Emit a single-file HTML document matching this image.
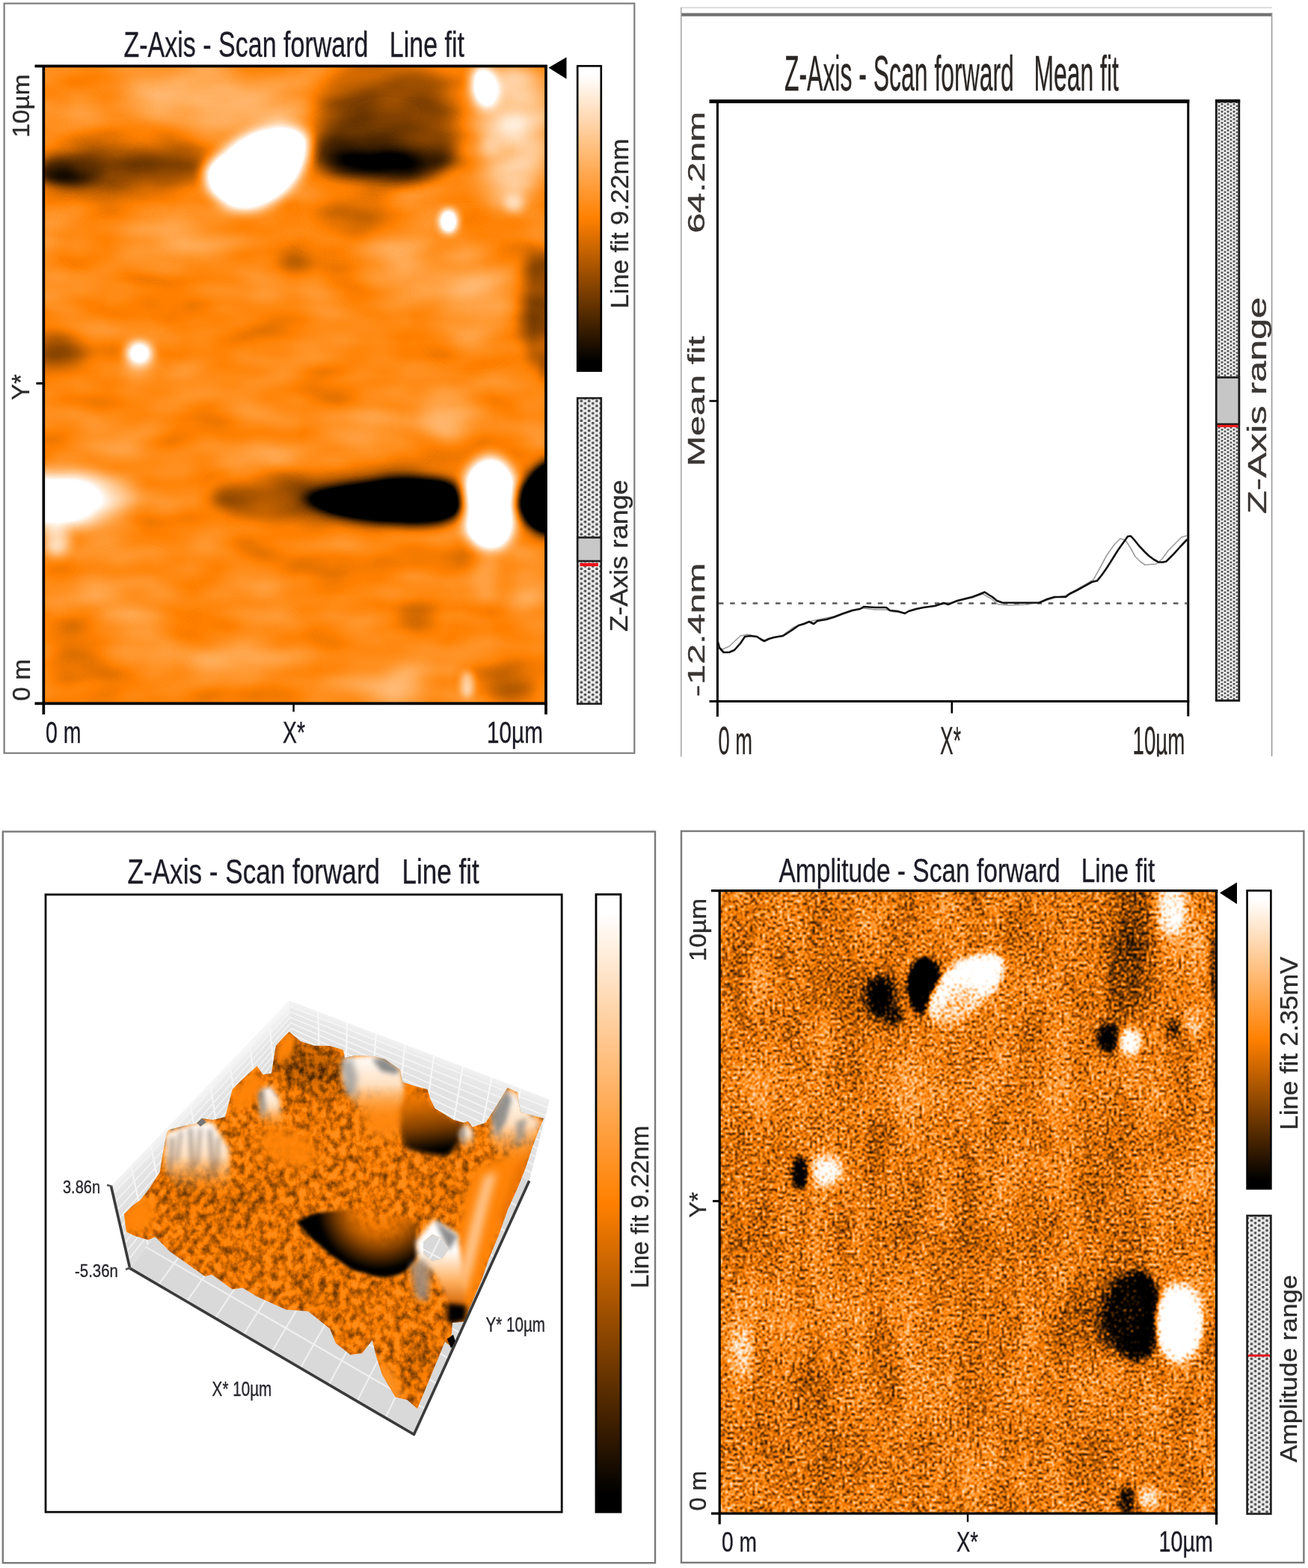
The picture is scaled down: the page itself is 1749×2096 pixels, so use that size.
<!DOCTYPE html>
<html lang="en"><head><meta charset="utf-8"><title>AFM scan panels</title>
<style>
html,body{margin:0;padding:0;background:#fff;}
body{width:1749px;height:2096px;overflow:hidden;font-family:"Liberation Sans",sans-serif;}
svg{display:block;font-family:"Liberation Sans",sans-serif;}
text{white-space:pre;}
</style></head><body>
<svg width="1749" height="2096" viewBox="0 0 1749 2096" role="img" aria-label="AFM scan panels">
<defs>
<filter id="soft" x="-5%" y="-5%" width="110%" height="110%"><feGaussianBlur stdDeviation="0.6"/></filter>
<filter id="cm1" filterUnits="userSpaceOnUse" x="59" y="89" width="671" height="851" color-interpolation-filters="sRGB">
<feTurbulence type="fractalNoise" baseFrequency="0.010 0.022" numOctaves="2" seed="7" result="n"/>
<feColorMatrix in="n" type="matrix" values="1 0 0 0 0  1 0 0 0 0  1 0 0 0 0  0 0 0 0 1" result="ng"/>
<feComposite in="SourceGraphic" in2="ng" operator="arithmetic" k1="0" k2="1.8" k3="0.3" k4="-0.55" result="h"/>
<feComponentTransfer><feFuncR type="table" tableValues="0 1 1"/><feFuncG type="table" tableValues="0 0.5 1"/><feFuncB type="table" tableValues="0 0 1"/></feComponentTransfer></filter>
<filter id="cm4" filterUnits="userSpaceOnUse" x="962" y="1191" width="665" height="832" color-interpolation-filters="sRGB">
<feTurbulence type="fractalNoise" baseFrequency="0.025 0.010" numOctaves="3" seed="4" result="m"/>
<feColorMatrix in="m" type="matrix" values="1 0 0 0 0  1 0 0 0 0  1 0 0 0 0  0 0 0 0 1" result="mg"/>
<feComposite in="SourceGraphic" in2="mg" operator="arithmetic" k1="0" k2="1" k3="0.1333" k4="-0.0667" result="s2"/>
<feTurbulence type="fractalNoise" baseFrequency="0.30 0.28" numOctaves="2" seed="11" result="n"/>
<feColorMatrix in="n" type="matrix" values="1 0 0 0 0  1 0 0 0 0  1 0 0 0 0  0 0 0 0 1" result="ng0"/>
<feComponentTransfer in="ng0" result="ng"><feFuncR type="table" tableValues="0 0.03 0.18 0.41 0.5 0.58 0.74 0.95 1"/><feFuncG type="table" tableValues="0 0.03 0.18 0.41 0.5 0.58 0.74 0.95 1"/><feFuncB type="table" tableValues="0 0.03 0.18 0.41 0.5 0.58 0.74 0.95 1"/></feComponentTransfer>
<feComposite in="s2" in2="ng" operator="arithmetic" k1="0" k2="3.0" k3="2.4" k4="-2.2" result="h"/>
<feGaussianBlur stdDeviation="0.9"/><feComponentTransfer><feFuncR type="table" tableValues="0 1 1"/><feFuncG type="table" tableValues="0 0.5 1"/><feFuncB type="table" tableValues="0 0 1"/></feComponentTransfer></filter>
<linearGradient id="cbar" x1="0" y1="0" x2="0" y2="1"><stop offset="0" stop-color="#fff"/><stop offset="0.03" stop-color="#fff"/><stop offset="0.5" stop-color="#ff8000"/><stop offset="0.97" stop-color="#000"/><stop offset="1" stop-color="#000"/></linearGradient>
<pattern id="dots" width="10.3" height="6.6" patternUnits="userSpaceOnUse" patternTransform="translate(771,531)"><rect width="10.3" height="6.6" fill="#ececec"/><circle cx="1.2" cy="1.6" r="1.85" fill="#505050"/><circle cx="11.5" cy="1.6" r="1.85" fill="#505050"/><circle cx="6.35" cy="4.9" r="1.85" fill="#505050"/></pattern>
<pattern id="dots2" width="8" height="5" patternUnits="userSpaceOnUse" patternTransform="translate(1625,133)"><rect width="8" height="5" fill="#ececec"/><circle cx="1" cy="1.2" r="1.5" fill="#555"/><circle cx="9" cy="1.2" r="1.5" fill="#555"/><circle cx="5" cy="3.7" r="1.5" fill="#555"/></pattern>
</defs>
<rect width="1749" height="2096" fill="#fff"/>
<rect x="5.6" y="4.6" width="842.70" height="1002.10" fill="none" stroke="#7d7d7d" stroke-width="2.2" />
<g filter="url(#cm1)">
<rect x="50" y="80" width="690.00" height="870.00" fill="rgb(133,133,133)" stroke="none" stroke-width="0" />
<ellipse cx="280" cy="135" rx="150" ry="40" fill="rgb(156,156,156)" filter="url(#b22)"  />
<ellipse cx="120" cy="130" rx="50" ry="35" fill="rgb(139,139,139)" filter="url(#b16)"  />
<ellipse cx="240" cy="312" rx="130" ry="25" fill="rgb(143,143,143)" filter="url(#b18)"  />
<ellipse cx="526" cy="345" rx="50" ry="40" fill="rgb(142,142,142)" filter="url(#b18)"  />
<ellipse cx="631" cy="384" rx="40" ry="70" fill="rgb(150,150,150)" filter="url(#b20)"  />
<ellipse cx="495" cy="573" rx="60" ry="30" fill="rgb(143,143,143)" filter="url(#b16)"  />
<ellipse cx="600" cy="552" rx="35" ry="35" fill="rgb(150,150,150)" filter="url(#b14)"  />
<ellipse cx="176" cy="825" rx="50" ry="60" fill="rgb(143,143,143)" filter="url(#b18)"  />
<ellipse cx="505" cy="909" rx="60" ry="25" fill="rgb(150,150,150)" filter="url(#b14)"  />
<ellipse cx="330" cy="880" rx="60" ry="40" fill="rgb(142,142,142)" filter="url(#b18)"  />
<ellipse cx="705" cy="783" rx="25" ry="50" fill="rgb(142,142,142)" filter="url(#b14)"  />
<ellipse cx="650" cy="770" rx="18" ry="35" fill="rgb(153,153,153)" filter="url(#b10)"  />
<ellipse cx="625" cy="915" rx="9" ry="17" fill="rgb(177,177,177)" filter="url(#b5)"  />
<ellipse cx="558" cy="825" rx="28" ry="24" fill="rgb(113,113,113)" filter="url(#b12)"  />
<ellipse cx="684" cy="919" rx="32" ry="24" fill="rgb(109,109,109)" filter="url(#b12)"  />
<ellipse cx="92" cy="885" rx="35" ry="45" fill="rgb(120,120,120)" filter="url(#b16)"  />
<ellipse cx="717" cy="410" rx="20" ry="80" fill="rgb(96,96,96)" filter="url(#b10)"  />
<ellipse cx="728" cy="420" rx="8" ry="90" fill="rgb(99,99,99)" filter="url(#b6)"  />
<ellipse cx="77" cy="470" rx="38" ry="26" fill="rgb(105,105,105)" filter="url(#b12)"  />
<ellipse cx="277" cy="468" rx="45" ry="12" fill="rgb(116,116,116)" filter="url(#b10)"  />
<ellipse cx="186" cy="405" rx="30" ry="14" fill="rgb(122,122,122)" filter="url(#b10)"  />
<ellipse cx="394" cy="353" rx="20" ry="20" fill="rgb(116,116,116)" filter="url(#b10)"  />
<ellipse cx="400" cy="640" rx="60" ry="12" fill="rgb(120,120,120)" filter="url(#b10)"  />
<ellipse cx="460" cy="780" rx="60" ry="14" fill="rgb(122,122,122)" filter="url(#b12)"  />
<ellipse cx="165" cy="222" rx="125" ry="38" fill="rgb(108,108,108)" filter="url(#b14)"  />
<ellipse cx="160" cy="226" rx="110" ry="20" fill="rgb(91,91,91)" filter="url(#b9)"  />
<ellipse cx="95" cy="228" rx="45" ry="17" fill="rgb(76,76,76)" filter="url(#b8)"  />
<ellipse cx="78" cy="228" rx="22" ry="10" fill="rgb(65,65,65)" filter="url(#b7)"  />
<ellipse cx="515" cy="150" rx="95" ry="62" fill="rgb(94,94,94)" filter="url(#b18)"  />
<ellipse cx="515" cy="200" rx="95" ry="44" fill="rgb(84,84,84)" filter="url(#b12)"  />
<ellipse cx="470" cy="280" rx="60" ry="28" fill="rgb(118,118,118)" filter="url(#b18)"  />
<ellipse cx="515" cy="213" rx="85" ry="24" fill="rgb(74,74,74)" filter="url(#b10)"  />
<ellipse cx="505" cy="217" rx="60" ry="11" fill="rgb(45,45,45)" filter="url(#b9)"  />
<ellipse cx="685" cy="180" rx="46" ry="95" fill="rgb(173,173,173)" filter="url(#b16)"  />
<ellipse cx="684" cy="170" rx="18" ry="18" fill="rgb(184,184,184)" filter="url(#b8)"  />
<ellipse cx="660" cy="194" rx="14" ry="14" fill="rgb(181,181,181)" filter="url(#b7)"  />
<ellipse cx="648" cy="116" rx="16" ry="27" fill="rgb(241,241,241)" filter="url(#b8)" transform="rotate(-12 648 116)" />
<ellipse cx="600" cy="296" rx="11" ry="15" fill="rgb(248,248,248)" filter="url(#b6)"  />
<ellipse cx="688" cy="269" rx="12" ry="13" fill="rgb(177,177,177)" filter="url(#b6)"  />
<polygon points="275.0,226.0 290.0,210.0 317.0,190.0 345.0,176.0 376.0,170.0 403.0,176.0 413.0,190.0 409.0,214.0 393.0,242.0 368.0,266.0 338.0,279.0 308.0,276.0 287.0,261.0 277.0,243.0" fill="rgb(248,248,248)" filter="url(#b9)"  />
<ellipse cx="186" cy="478" rx="22" ry="24" fill="rgb(159,159,159)" filter="url(#b9)"  />
<ellipse cx="186" cy="472" rx="15" ry="13" fill="rgb(248,248,248)" filter="url(#b7)"  />
<ellipse cx="460" cy="667" rx="170" ry="30" fill="rgb(99,99,99)" filter="url(#b12)"  />
<ellipse cx="340" cy="664" rx="55" ry="18" fill="rgb(99,99,99)" filter="url(#b10)"  />
<polygon points="398.0,666.0 430.0,657.0 470.0,648.0 515.0,641.0 555.0,639.0 588.0,641.0 608.0,649.0 616.0,660.0 617.0,673.0 612.0,687.0 592.0,697.0 552.0,700.0 510.0,697.0 468.0,690.0 430.0,680.0" fill="rgb(7,7,7)" filter="url(#b9)"  />
<rect x="624" y="611" width="62" height="122" rx="30" ry="36" fill="rgb(252,252,252)" filter="url(#b9)"/>
<polygon points="734.0,615.0 717.0,627.0 702.0,644.0 694.0,664.0 695.0,683.0 704.0,699.0 718.0,709.0 734.0,713.0 760.0,713.0 760.0,615.0" fill="rgb(3,3,3)" filter="url(#b8)"  />
<ellipse cx="95" cy="668" rx="85" ry="38" fill="rgb(177,177,177)" filter="url(#b14)"  />
<ellipse cx="75" cy="720" rx="17" ry="24" fill="rgb(184,184,184)" filter="url(#b8)"  />
<polygon points="30.0,636.0 90.0,642.0 125.0,656.0 150.0,669.0 125.0,683.0 90.0,692.0 30.0,697.0" fill="rgb(241,241,241)" filter="url(#b13)"  />
</g>
<line x1="46.5" y1="88.3" x2="731.9" y2="88.3" stroke="#000" stroke-width="3.7" />
<line x1="58.3" y1="87" x2="58.3" y2="955" stroke="#000" stroke-width="3.7" />
<line x1="730" y1="87" x2="730" y2="955" stroke="#000" stroke-width="3.7" />
<line x1="46.5" y1="940.3" x2="731.9" y2="940.3" stroke="#000" stroke-width="3.7" />
<line x1="48.5" y1="512.5" x2="58" y2="512.5" stroke="#000" stroke-width="3" />
<line x1="392.6" y1="940" x2="392.6" y2="951.5" stroke="#000" stroke-width="2.4" />
<polygon points="733.5,90.5 757.5,76.5 757.5,105.5" fill="#000"/>
<rect x="772.2" y="88.2" width="31.60" height="407.60" fill="url(#cbar)" stroke="#000" stroke-width="2.6" />
<rect x="772.2" y="532.2" width="31.60" height="408.60" fill="url(#dots)" stroke="#1e1e1e" stroke-width="2.6" />
<rect x="772.2" y="718.5" width="31.60" height="31.50" fill="#c8c8c8" stroke="#1e1e1e" stroke-width="2.6" />
<line x1="775.5" y1="754.8" x2="800" y2="754.8" stroke="#f01018" stroke-width="4.2" />
<text transform="translate(165.5,76.3) scale(0.7091,1)" font-size="47.97" fill="#1c1c26" stroke="#1c1c26" stroke-width="0.35" >Z-Axis - Scan forward   Line fit</text>
<text transform="translate(61.0,992.5) scale(0.7129,1)" font-size="39.97" fill="#1c1c26" stroke="#1c1c26" stroke-width="0.35" >0 m</text>
<text transform="translate(378.0,992.5) scale(0.7106,1)" font-size="39.97" fill="#1c1c26" stroke="#1c1c26" stroke-width="0.35" >X*</text>
<text transform="translate(651.0,992.5) scale(0.7441,1)" font-size="39.97" fill="#1c1c26" stroke="#1c1c26" stroke-width="0.35" >10µm</text>
<text transform="translate(39.5,937.0) rotate(-90) scale(1.0272,1)" font-size="32.70" fill="#2a2a2a" stroke="#2a2a2a" stroke-width="0.35" >0 m</text>
<text transform="translate(39.3,534.9) rotate(-90) scale(1.0016,1)" font-size="32.70" fill="#2a2a2a" stroke="#2a2a2a" stroke-width="0.35" >Y*</text>
<text transform="translate(39.3,183.8) rotate(-90) scale(1.0492,1)" font-size="31.98" fill="#2a2a2a" stroke="#2a2a2a" stroke-width="0.35" >10µm</text>
<text transform="translate(839.8,412.5) rotate(-90) scale(1.0447,1)" font-size="33.14" fill="#2a2a2a" stroke="#2a2a2a" stroke-width="0.35" >Line fit 9.22nm</text>
<text transform="translate(839.3,844.6) rotate(-90) scale(1.1070,1)" font-size="32.41" fill="#2a2a2a" stroke="#2a2a2a" stroke-width="0.35" >Z-Axis range</text>
<line x1="910" y1="10.2" x2="1701" y2="10.2" stroke="#dcdcdc" stroke-width="2" />
<line x1="910" y1="19.6" x2="1701" y2="19.6" stroke="#707070" stroke-width="4.4" />
<line x1="910.8" y1="10" x2="910.8" y2="1012" stroke="#a8a8a8" stroke-width="1.6" />
<line x1="1700.6" y1="17" x2="1700.6" y2="1011" stroke="#9a9a9a" stroke-width="1.6" />
<line x1="948.5" y1="135.5" x2="1590.2" y2="135.5" stroke="#000" stroke-width="5" />
<line x1="959.4" y1="133" x2="959.4" y2="958" stroke="#000" stroke-width="3" />
<line x1="1588.8" y1="133" x2="1588.8" y2="957.5" stroke="#000" stroke-width="3" />
<line x1="948.5" y1="937.4" x2="1590.2" y2="937.4" stroke="#000" stroke-width="3" />
<line x1="948.5" y1="536" x2="959" y2="536" stroke="#000" stroke-width="2.6" />
<line x1="1272.8" y1="937" x2="1272.8" y2="953.5" stroke="#000" stroke-width="2.6" />
<line x1="961" y1="806.5" x2="1587" y2="806.5" stroke="#5a5a5a" stroke-width="2.6" stroke-dasharray="6.5 8.7"/>
<polyline fill="none" stroke="#9c9c9c" stroke-width="1.6" stroke-linejoin="round" points="960,864 966,868 975,864 990,850 1000,848 1012,851 1022,856 1035,852 1047,849 1062,838 1075,833 1090,829 1115,824 1140,815 1155,813 1170,815 1185,815 1195,818 1210,819 1235,812 1265,807 1300,799 1314,794 1325,800 1335,808 1350,809 1375,808 1395,804 1410,799 1425,796 1440,788 1455,779 1462,775 1472,757 1480,742 1490,728 1498,720 1505,722 1512,733 1518,744 1525,751 1531,755 1546,754 1554,747 1562,736 1572,726 1580,718 1587,716"/>
<polyline fill="none" stroke="#111" stroke-width="2.6" stroke-linejoin="round" points="960,858 962,866 967.5,872 975,872 982,869 990,860 996,851 1003,850 1012,851 1018,855 1022,857 1028,854 1035,852 1047,850 1058,843 1068,836 1075,834 1082,831 1088,834 1093,830 1105,828 1115,825 1128,820 1140,816 1150,814 1155,811 1170,812 1185,812 1190,816 1200,817 1210,820 1215,817 1225,814 1235,812 1250,810 1262,806 1268,808 1280,803 1300,798 1308,795 1316.7,791.5 1322,795 1327,798 1333,803 1340,805.5 1360,805.8 1390,805.5 1400,801 1410,798 1425,798 1430,794 1440,789 1454,781.4 1460,778 1467,776.3 1473,769 1479.7,759.6 1487,748 1495,735.2 1503,724 1508,717 1512,716.5 1517,722 1523.4,730 1530,737 1536.2,743 1543,748 1549,751.4 1555,751.5 1559.3,750.6 1564,746 1569.6,740.3 1578,731 1587.5,721"/>
<rect x="1626.3" y="135" width="30.50" height="801.50" fill="url(#dots2)" stroke="#1a1a1a" stroke-width="2.8" />
<line x1="1625" y1="135" x2="1658.2" y2="135" stroke="#111" stroke-width="4.5" />
<rect x="1626.3" y="504.5" width="30.50" height="62.50" fill="#c6c6c6" stroke="#1a1a1a" stroke-width="2.6" />
<line x1="1628" y1="569.5" x2="1655.5" y2="569.5" stroke="#ee1c1c" stroke-width="3.2" />
<text transform="translate(1049.0,120.5) scale(0.4723,1)" font-size="67.59" fill="#2a2624" stroke="#2a2624" stroke-width="0.35" >Z-Axis - Scan forward   Mean fit</text>
<text transform="translate(960.5,1008.0) scale(0.5216,1)" font-size="52.33" fill="#2a2624" stroke="#2a2624" stroke-width="0.35" >0 m</text>
<text transform="translate(1257.0,1008.0) scale(0.5066,1)" font-size="52.33" fill="#2a2624" stroke="#2a2624" stroke-width="0.35" >X*</text>
<text transform="translate(1514.5,1008.0) scale(0.5305,1)" font-size="52.33" fill="#2a2624" stroke="#2a2624" stroke-width="0.35" >10µm</text>
<text transform="translate(942.0,931.5) rotate(-90) scale(1.5614,1)" font-size="31.25" fill="#3a3634" stroke="#3a3634" stroke-width="0.35" >-12.4nm</text>
<text transform="translate(942.0,623.5) rotate(-90) scale(1.5698,1)" font-size="31.25" fill="#3a3634" stroke="#3a3634" stroke-width="0.35" >Mean fit</text>
<text transform="translate(942.0,311.8) rotate(-90) scale(1.5619,1)" font-size="31.25" fill="#3a3634" stroke="#3a3634" stroke-width="0.35" >64.2nm</text>
<text transform="translate(1692.5,687.0) rotate(-90) scale(1.4666,1)" font-size="34.88" fill="#3a3634" stroke="#3a3634" stroke-width="0.35" >Z-Axis range</text>
<rect x="900" y="1011.5" width="849.00" height="48.50" fill="#fff" stroke="none" stroke-width="0" />
<rect x="3.8" y="1111.6" width="872.20" height="977.60" fill="none" stroke="#7a7a7a" stroke-width="2.4" />
<rect x="61" y="1195.8" width="690.20" height="825.40" fill="none" stroke="#0a0a0a" stroke-width="2.8" />
<rect x="797" y="1195.6" width="33.00" height="825.60" fill="url(#cbar)" stroke="#000" stroke-width="2.8" />
<text transform="translate(170.5,1180.6) scale(0.7553,1)" font-size="46.51" fill="#1c1c26" stroke="#1c1c26" stroke-width="0.35" >Z-Axis - Scan forward   Line fit</text>
<text transform="translate(866.8,1722.0) rotate(-90) scale(0.9782,1)" font-size="33.87" fill="#2a2a2a" stroke="#2a2a2a" stroke-width="0.35" >Line fit 9.22nm</text>
<defs>
<linearGradient id="wl" gradientUnits="userSpaceOnUse" x1="270" y1="1460" x2="300" y2="1490"><stop offset="0" stop-color="#f6f6f6"/><stop offset="0.35" stop-color="#e6e6e6"/><stop offset="1" stop-color="#dedede"/></linearGradient>
<linearGradient id="wr" gradientUnits="userSpaceOnUse" x1="570" y1="1400" x2="555" y2="1440"><stop offset="0" stop-color="#f8f8f8"/><stop offset="0.4" stop-color="#e9e9e9"/><stop offset="1" stop-color="#e2e2e2"/></linearGradient>
<clipPath id="sc"><path clip-rule="evenodd" d="M166.0,1623.0 177.0,1612.0 188.0,1604.0 200.0,1588.0 213.6,1567.0 218.0,1540.0 223.0,1514.0 227.0,1510.0 246.6,1504.7 262.0,1502.0 270.0,1495.0 285.0,1497.0 301.0,1493.0 306.0,1475.0 310.8,1456.0 325.0,1442.0 343.8,1425.0 351.6,1436.6 363.0,1434.7 366.0,1415.0 369.0,1397.8 378.0,1388.0 386.6,1379.3 402.0,1392.0 420.0,1397.8 441.0,1398.0 459.0,1403.6 461.0,1414.0 475.0,1411.0 500.0,1412.0 515.0,1416.0 535.0,1430.0 538.6,1446.4 555.0,1452.0 571.6,1456.0 575.0,1468.0 581.4,1481.4 595.0,1490.0 606.6,1497.0 620.0,1500.8 626.0,1499.0 632.0,1506.6 649.4,1500.8 664.0,1478.0 678.6,1454.0 692.0,1460.0 694.0,1475.0 696.0,1487.0 712.0,1491.0 727.0,1495.0 720.0,1512.0 711.6,1534.0 702.0,1563.0 692.0,1588.0 678.6,1617.4 667.0,1650.5 653.3,1683.5 643.6,1712.0 626.0,1752.8 622.2,1766.4 605.0,1768.0 602.7,1799.4 595.0,1793.6 581.4,1826.6 567.7,1859.7 558.0,1883.0 544.4,1871.3 528.9,1867.5 511.4,1838.3 503.6,1815.0 497.8,1791.6 484.0,1809.0 468.6,1811.0 449.0,1795.5 441.0,1776.0 411.9,1752.8 382.7,1750.8 343.8,1733.3 324.4,1721.6 310.8,1723.6 283.6,1704.0 273.9,1706.0 227.2,1673.0 207.8,1653.6 198.0,1657.5 180.0,1652.0 168.9,1646.6Z M566.0,1660.0 578.0,1650.0 592.0,1656.0 600.0,1668.0 592.0,1682.0 578.0,1686.0 566.0,1676.0Z"/></clipPath>
<filter id="cm3" filterUnits="userSpaceOnUse" x="140" y="1330" width="610" height="600" color-interpolation-filters="sRGB">
<feTurbulence type="fractalNoise" baseFrequency="0.11 0.09" numOctaves="3" seed="5" result="n"/>
<feColorMatrix in="n" type="matrix" values="1 0 0 0 0  1 0 0 0 0  1 0 0 0 0  0 0 0 0 1" result="ng"/>
<feComponentTransfer in="ng" result="np"><feFuncR type="table" tableValues="1 1 0.62 0.25"/><feFuncG type="table" tableValues="1 1 0.62 0.25"/><feFuncB type="table" tableValues="1 1 0.62 0.25"/></feComponentTransfer>
<feComposite in="SourceGraphic" in2="np" operator="arithmetic" k1="0" k2="3" k3="0.55" k4="-1.55" result="h"/>
<feComponentTransfer><feFuncR type="table" tableValues="0 1 1"/><feFuncG type="table" tableValues="0 0.5 1"/><feFuncB type="table" tableValues="0 0 1"/></feComponentTransfer>
</filter>
<radialGradient id="v1" gradientUnits="userSpaceOnUse" cx="508" cy="1612" r="100"><stop offset="0" stop-color="#ff8000" stop-opacity="0"/><stop offset="0.3" stop-color="#e87400" stop-opacity="0.7"/><stop offset="0.6" stop-color="#7a3c00"/><stop offset="0.85" stop-color="#000"/><stop offset="1" stop-color="#000"/></radialGradient>
<linearGradient id="v2" gradientUnits="userSpaceOnUse" x1="572" y1="1452" x2="584" y2="1546"><stop offset="0" stop-color="#ff8000" stop-opacity="0.6"/><stop offset="0.25" stop-color="#d86c00" stop-opacity="0.95"/><stop offset="0.6" stop-color="#7a3c00"/><stop offset="0.9" stop-color="#000"/><stop offset="1" stop-color="#000"/></linearGradient>
<linearGradient id="pk" x1="0" y1="0" x2="0" y2="1"><stop offset="0" stop-color="#fff"/><stop offset="0.45" stop-color="#ffe0c0"/><stop offset="1" stop-color="#ff8a10" stop-opacity="0"/></linearGradient>
<linearGradient id="pk2" x1="0" y1="0" x2="0" y2="1"><stop offset="0" stop-color="#fff"/><stop offset="0.3" stop-color="#fff"/><stop offset="0.6" stop-color="#ffb060"/><stop offset="0.85" stop-color="#d06000"/><stop offset="1" stop-color="#000"/></linearGradient>
</defs>
<polygon points="148.5,1585.4 386.6,1337.5 392.0,1412.0 173.7,1695.4" fill="url(#wl)"/>
<polygon points="386.6,1337.5 735.0,1469.7 707.7,1578.6 392.0,1412.0" fill="url(#wr)"/>
<line x1="175.0" y1="1557.9" x2="198.0" y2="1663.9" stroke="#f7f7f7" stroke-width="2"/>
<line x1="425.3" y1="1352.2" x2="427.1" y2="1430.5" stroke="#f9f9f9" stroke-width="2"/>
<line x1="201.4" y1="1530.3" x2="222.2" y2="1632.4" stroke="#f7f7f7" stroke-width="2"/>
<line x1="464.0" y1="1366.9" x2="462.2" y2="1449.0" stroke="#f9f9f9" stroke-width="2"/>
<line x1="227.9" y1="1502.8" x2="246.5" y2="1600.9" stroke="#f7f7f7" stroke-width="2"/>
<line x1="502.7" y1="1381.6" x2="497.2" y2="1467.5" stroke="#f9f9f9" stroke-width="2"/>
<line x1="254.3" y1="1475.2" x2="270.7" y2="1569.4" stroke="#f7f7f7" stroke-width="2"/>
<line x1="541.4" y1="1396.3" x2="532.3" y2="1486.0" stroke="#f9f9f9" stroke-width="2"/>
<line x1="280.8" y1="1447.7" x2="295.0" y2="1538.0" stroke="#f7f7f7" stroke-width="2"/>
<line x1="580.2" y1="1410.9" x2="567.4" y2="1504.6" stroke="#f9f9f9" stroke-width="2"/>
<line x1="307.2" y1="1420.1" x2="319.2" y2="1506.5" stroke="#f7f7f7" stroke-width="2"/>
<line x1="618.9" y1="1425.6" x2="602.5" y2="1523.1" stroke="#f9f9f9" stroke-width="2"/>
<line x1="333.7" y1="1392.6" x2="343.5" y2="1475.0" stroke="#f7f7f7" stroke-width="2"/>
<line x1="657.6" y1="1440.3" x2="637.5" y2="1541.6" stroke="#f9f9f9" stroke-width="2"/>
<line x1="360.1" y1="1365.0" x2="367.7" y2="1443.5" stroke="#f7f7f7" stroke-width="2"/>
<line x1="696.3" y1="1455.0" x2="672.6" y2="1560.1" stroke="#f9f9f9" stroke-width="2"/>
<line x1="151.0" y1="1596.4" x2="387.1" y2="1345.0" stroke="#f4f4f4" stroke-width="1.6"/>
<line x1="387.1" y1="1345.0" x2="732.3" y2="1480.6" stroke="#f6f6f6" stroke-width="1.6"/>
<line x1="153.5" y1="1607.4" x2="387.7" y2="1352.4" stroke="#f4f4f4" stroke-width="1.6"/>
<line x1="387.7" y1="1352.4" x2="729.5" y2="1491.5" stroke="#f6f6f6" stroke-width="1.6"/>
<line x1="156.1" y1="1618.4" x2="388.2" y2="1359.8" stroke="#f4f4f4" stroke-width="1.6"/>
<line x1="388.2" y1="1359.8" x2="726.8" y2="1502.4" stroke="#f6f6f6" stroke-width="1.6"/>
<line x1="158.6" y1="1629.4" x2="388.8" y2="1367.3" stroke="#f4f4f4" stroke-width="1.6"/>
<line x1="388.8" y1="1367.3" x2="724.1" y2="1513.3" stroke="#f6f6f6" stroke-width="1.6"/>
<line x1="161.1" y1="1640.4" x2="389.3" y2="1374.8" stroke="#f4f4f4" stroke-width="1.6"/>
<line x1="389.3" y1="1374.8" x2="721.4" y2="1524.2" stroke="#f6f6f6" stroke-width="1.6"/>
<line x1="163.6" y1="1651.4" x2="389.8" y2="1382.2" stroke="#f4f4f4" stroke-width="1.6"/>
<line x1="389.8" y1="1382.2" x2="718.6" y2="1535.0" stroke="#f6f6f6" stroke-width="1.6"/>
<line x1="166.1" y1="1662.4" x2="390.4" y2="1389.7" stroke="#f4f4f4" stroke-width="1.6"/>
<line x1="390.4" y1="1389.7" x2="715.9" y2="1545.9" stroke="#f6f6f6" stroke-width="1.6"/>
<line x1="168.7" y1="1673.4" x2="390.9" y2="1397.1" stroke="#f4f4f4" stroke-width="1.6"/>
<line x1="390.9" y1="1397.1" x2="713.2" y2="1556.8" stroke="#f6f6f6" stroke-width="1.6"/>
<line x1="171.2" y1="1684.4" x2="391.5" y2="1404.5" stroke="#f4f4f4" stroke-width="1.6"/>
<line x1="391.5" y1="1404.5" x2="710.4" y2="1567.7" stroke="#f6f6f6" stroke-width="1.6"/>
<polygon points="173.7,1695.4 553.5,1917.5 707.7,1578.6 392.0,1412.0" fill="#d9d9d9"/>
<line x1="211.7" y1="1717.6" x2="423.6" y2="1428.7" stroke="#f0f0f0" stroke-width="2.2"/>
<line x1="195.5" y1="1667.1" x2="568.9" y2="1883.6" stroke="#f0f0f0" stroke-width="2.2"/>
<line x1="249.7" y1="1739.8" x2="455.1" y2="1445.3" stroke="#f0f0f0" stroke-width="2.2"/>
<line x1="217.4" y1="1638.7" x2="584.3" y2="1849.7" stroke="#f0f0f0" stroke-width="2.2"/>
<line x1="287.6" y1="1762.0" x2="486.7" y2="1462.0" stroke="#f0f0f0" stroke-width="2.2"/>
<line x1="239.2" y1="1610.4" x2="599.8" y2="1815.8" stroke="#f0f0f0" stroke-width="2.2"/>
<line x1="325.6" y1="1784.2" x2="518.3" y2="1478.6" stroke="#f0f0f0" stroke-width="2.2"/>
<line x1="261.0" y1="1582.0" x2="615.2" y2="1781.9" stroke="#f0f0f0" stroke-width="2.2"/>
<line x1="363.6" y1="1806.5" x2="549.9" y2="1495.3" stroke="#f0f0f0" stroke-width="2.2"/>
<line x1="282.9" y1="1553.7" x2="630.6" y2="1748.0" stroke="#f0f0f0" stroke-width="2.2"/>
<line x1="401.6" y1="1828.7" x2="581.4" y2="1512.0" stroke="#f0f0f0" stroke-width="2.2"/>
<line x1="304.7" y1="1525.4" x2="646.0" y2="1714.2" stroke="#f0f0f0" stroke-width="2.2"/>
<line x1="439.6" y1="1850.9" x2="613.0" y2="1528.6" stroke="#f0f0f0" stroke-width="2.2"/>
<line x1="326.5" y1="1497.0" x2="661.4" y2="1680.3" stroke="#f0f0f0" stroke-width="2.2"/>
<line x1="477.5" y1="1873.1" x2="644.6" y2="1545.3" stroke="#f0f0f0" stroke-width="2.2"/>
<line x1="348.3" y1="1468.7" x2="676.9" y2="1646.4" stroke="#f0f0f0" stroke-width="2.2"/>
<line x1="515.5" y1="1895.3" x2="676.1" y2="1561.9" stroke="#f0f0f0" stroke-width="2.2"/>
<line x1="370.2" y1="1440.3" x2="692.3" y2="1612.5" stroke="#f0f0f0" stroke-width="2.2"/>
<g clip-path="url(#sc)">
<g filter="url(#cm3)">
<rect x="140" y="1330" width="610.00" height="600.00" fill="rgb(132,132,132)" stroke="none" stroke-width="0" />
<ellipse cx="410" cy="1425" rx="55" ry="32" fill="rgb(119,119,119)" filter="url(#b12)" transform="rotate(20 410 1425)" />
<ellipse cx="330" cy="1600" rx="60" ry="25" fill="rgb(128,128,128)" filter="url(#b14)" transform="rotate(-30 330 1600)" />
<ellipse cx="470" cy="1580" rx="70" ry="22" fill="rgb(132,132,132)" filter="url(#b14)" transform="rotate(15 470 1580)" />
<ellipse cx="300" cy="1670" rx="60" ry="18" fill="rgb(129,129,129)" filter="url(#b12)" transform="rotate(28 300 1670)" />
<ellipse cx="430" cy="1730" rx="50" ry="18" fill="rgb(128,128,128)" filter="url(#b12)" transform="rotate(28 430 1730)" />
<ellipse cx="560" cy="1820" rx="20" ry="40" fill="rgb(125,125,125)" filter="url(#b10)" transform="rotate(25 560 1820)" />
<ellipse cx="250" cy="1590" rx="25" ry="30" fill="rgb(125,125,125)" filter="url(#b10)"  />
<ellipse cx="610" cy="1600" rx="40" ry="20" fill="rgb(128,128,128)" filter="url(#b12)" transform="rotate(15 610 1600)" />
<ellipse cx="690" cy="1540" rx="20" ry="35" fill="rgb(126,126,126)" filter="url(#b10)" transform="rotate(20 690 1540)" />
</g>
<ellipse cx="385" cy="1535" rx="42" ry="24" fill="#ff8408" filter="url(#b8)" transform="rotate(20 385 1535)" opacity="0.9"/>
<ellipse cx="515" cy="1490" rx="32" ry="34" fill="#ff8810" filter="url(#b8)" opacity="0.95"/>
<polygon points="636.0,1560.0 680.0,1545.0 712.0,1525.0 722.0,1505.0 712.0,1534.0 702.0,1563.0 692.0,1588.0 679.0,1617.0 667.0,1650.0 653.0,1684.0 644.0,1712.0 626.0,1753.0 620.0,1768.0 600.0,1764.0 606.0,1725.0 610.0,1690.0 613.0,1640.0 620.0,1600.0" fill="#ff8408" filter="url(#b5)"/>
<polygon points="648.0,1572.0 664.0,1566.0 652.0,1610.0 640.0,1660.0 630.0,1700.0 620.0,1730.0 612.0,1725.0 620.0,1680.0 632.0,1630.0" fill="#ffcfa0" filter="url(#b6)" opacity="0.95"/>
<polygon points="690.0,1560.0 704.0,1540.0 700.0,1570.0 684.0,1612.0 672.0,1640.0 668.0,1625.0 680.0,1590.0" fill="#e87000" filter="url(#b5)" opacity="0.8"/>
<ellipse cx="185" cy="1625" rx="20" ry="26" fill="#ff8408" filter="url(#b6)" transform="rotate(35 185 1625)"/>
<ellipse cx="330" cy="1460" rx="14" ry="30" fill="#ff8408" filter="url(#b5)" transform="rotate(40 330 1460)"/>
<ellipse cx="382" cy="1400" rx="10" ry="22" fill="#ff8408" filter="url(#b4)" transform="rotate(25 382 1400)"/>
<ellipse cx="520" cy="1850" rx="12" ry="30" fill="#ff9020" filter="url(#b5)" transform="rotate(-25 520 1850)"/>
<ellipse cx="470" cy="1650" rx="30" ry="14" fill="#ff8408" filter="url(#b6)" transform="rotate(15 470 1650)" opacity="0.8"/>
<path d="M396,1633 L420,1622 L470,1616 L520,1620 L557,1636 L557,1680 C547,1700 532,1709 505,1707 L470,1697 L440,1676 L414,1653 Z" fill="url(#v1)" filter="url(#b2)"/>
<path d="M540,1446 L560,1454 L581,1481 L607,1497 L621,1501 L615,1524 L605,1540 L595,1546 L566,1541 L544,1536 L536,1514 L536,1476 Z" fill="url(#v2)" filter="url(#b3)"/>
<path d="M460,1414 L500,1410 L536,1430 L540,1450 L538,1475 L520,1500 L490,1500 L470,1470 L458,1440 Z" fill="url(#pk)" filter="url(#b3)"/>
<path d="M497,1415 L516,1416 L535,1430 L530,1436 L510,1432 Z" fill="#8a8a8a" filter="url(#b3)"/>
<path d="M456,1420 L470,1414 L478,1440 L474,1470 L462,1460 Z" fill="#9a9a9a" opacity="0.8" filter="url(#b4)"/>
<path d="M221,1514 L262,1501 L284,1500 L306,1535 L308,1588 L272,1600 L240,1596 L220,1562 Z" fill="url(#pk)" filter="url(#b3)"/>
<rect x="228" y="1520" width="5" height="50" fill="#5c5048" opacity="0.55" filter="url(#b3)" transform="rotate(4 228 1520)"/>
<rect x="240" y="1512" width="4" height="40" fill="#5c5048" opacity="0.55" filter="url(#b3)" transform="rotate(8 240 1512)"/>
<rect x="252" y="1508" width="5" height="62" fill="#5c5048" opacity="0.55" filter="url(#b3)" transform="rotate(-3 252 1508)"/>
<rect x="266" y="1508" width="4" height="50" fill="#5c5048" opacity="0.55" filter="url(#b3)" transform="rotate(5 266 1508)"/>
<rect x="278" y="1510" width="5" height="66" fill="#5c5048" opacity="0.55" filter="url(#b3)" transform="rotate(-4 278 1510)"/>
<rect x="290" y="1520" width="4" height="45" fill="#5c5048" opacity="0.55" filter="url(#b3)" transform="rotate(3 290 1520)"/>
<path d="M250,1487 L258,1484 L276,1500 L268,1506 Z" fill="#777"/>
<path d="M350,1456 L362,1452 L374,1470 L378,1505 L360,1512 L348,1490 Z" fill="url(#pk)" filter="url(#b3)"/>
<path d="M344,1462 L352,1454 L356,1480 L350,1500 Z" fill="#888" opacity="0.8" filter="url(#b3)"/>
<path d="M664,1478 L678,1456 L692,1462 L712,1492 L724,1498 L706,1550 L690,1560 L668,1545 L655,1520 Z" fill="url(#pk)" filter="url(#b4)"/>
<path d="M656,1490 L678,1456 L684,1470 L676,1500 L664,1520 Z" fill="#808080" opacity="0.85" filter="url(#b3)"/>
<path d="M690,1500 L704,1494 L700,1520 L690,1535 Z" fill="#8a8a8a" opacity="0.7" filter="url(#b3)"/>
<path d="M616,1512 L624,1502 L632,1512 L634,1540 L618,1540 Z" fill="url(#pk)" filter="url(#b3)"/>
<path d="M612,1515 L622,1503 L622,1535 Z" fill="#888" opacity="0.8" filter="url(#b3)"/>
<path d="M556,1660 L580,1630 L612,1650 L618,1690 L622,1740 L612,1768 L598,1766 L600,1740 L580,1700 L560,1690 Z" fill="url(#pk2)" filter="url(#b3)"/>
<path d="M582,1632 L612,1652 L600,1672 L590,1650 Z" fill="#8c8c8c" filter="url(#b3)"/>
<path d="M548,1690 L566,1682 L576,1700 L572,1740 L556,1735 Z" fill="#9a8f88" opacity="0.85" filter="url(#b4)"/>
<path d="M598,1742 L624,1745 L622,1766 L600,1767 Z" fill="#000" filter="url(#b3)"/>
</g>
<polygon points="598.0,1790.0 606.0,1784.0 610.0,1796.0 603.0,1802.0" fill="#000"/>
<polyline points="148.5,1585.4 173.7,1695.4 553.5,1917.5 707.7,1578.6" fill="none" stroke="#3a3a3a" stroke-width="3.6" stroke-linejoin="round"/>
<line x1="143" y1="1584" x2="150" y2="1586" stroke="#555" stroke-width="2.5"/>
<line x1="168" y1="1697" x2="175" y2="1694" stroke="#555" stroke-width="2.5"/>
<text transform="translate(84.0,1595.0) scale(0.8086,1)" font-size="24.71" fill="#26262c" stroke="#26262c" stroke-width="0.35" >3.86n</text>
<text transform="translate(100.0,1706.5) scale(0.8278,1)" font-size="24.71" fill="#26262c" stroke="#26262c" stroke-width="0.35" >-5.36n</text>
<text transform="translate(283.6,1865.5) scale(0.7688,1)" font-size="26.89" fill="#26262c" stroke="#26262c" stroke-width="0.35" >X* 10µm</text>
<text transform="translate(649.4,1780.0) scale(0.7688,1)" font-size="26.89" fill="#26262c" stroke="#26262c" stroke-width="0.35" >Y* 10µm</text>
<rect x="911" y="1111" width="832.40" height="977.80" fill="none" stroke="#7a7a7a" stroke-width="2.4" />
<g filter="url(#cm4)">
<rect x="950" y="1180" width="690.00" height="855.00" fill="rgb(127,127,127)" stroke="none" stroke-width="0" />
<ellipse cx="1130" cy="1300" rx="60" ry="60" fill="rgb(121,121,121)" filter="url(#b24)"  />
<ellipse cx="1515" cy="1260" rx="30" ry="85" fill="rgb(104,104,104)" filter="url(#b14)"  />
<ellipse cx="1500" cy="1330" rx="22" ry="40" fill="rgb(106,106,106)" filter="url(#b12)"  />
<ellipse cx="1590" cy="1300" rx="25" ry="70" fill="rgb(138,138,138)" filter="url(#b16)"  />
<ellipse cx="1600" cy="1650" rx="25" ry="120" fill="rgb(136,136,136)" filter="url(#b20)"  />
<ellipse cx="1000" cy="1780" rx="30" ry="70" fill="rgb(136,136,136)" filter="url(#b20)"  />
<ellipse cx="1250" cy="1450" rx="90" ry="40" fill="rgb(133,133,133)" filter="url(#b24)"  />
<ellipse cx="1480" cy="1650" rx="20" ry="200" fill="rgb(121,121,121)" filter="url(#b14)"  />
<ellipse cx="1290" cy="1700" rx="15" ry="150" fill="rgb(122,122,122)" filter="url(#b12)" transform="rotate(-8 1290 1700)" />
<ellipse cx="1080" cy="1900" rx="40" ry="60" fill="rgb(122,122,122)" filter="url(#b20)"  />
<ellipse cx="1440" cy="1760" rx="40" ry="50" fill="rgb(119,119,119)" filter="url(#b16)"  />
<ellipse cx="1180" cy="1335" rx="24" ry="34" fill="rgb(98,98,98)" filter="url(#b9)"  />
<ellipse cx="1177" cy="1332" rx="13" ry="22" fill="rgb(34,34,34)" filter="url(#b6)"  />
<ellipse cx="1195" cy="1358" rx="12" ry="12" fill="rgb(76,76,76)" filter="url(#b6)"  />
<ellipse cx="1236" cy="1318" rx="20" ry="36" fill="rgb(0,0,0)" filter="url(#b5)"  />
<ellipse cx="1289" cy="1319" rx="58" ry="26" fill="rgb(246,246,246)" filter="url(#b7)" transform="rotate(-37 1289 1319)" />
<ellipse cx="1280" cy="1340" rx="40" ry="22" fill="rgb(153,153,153)" filter="url(#b10)" transform="rotate(-37 1280 1340)" />
<ellipse cx="1566" cy="1215" rx="17" ry="36" fill="rgb(187,187,187)" filter="url(#b9)"  />
<ellipse cx="1482" cy="1388" rx="13" ry="18" fill="rgb(51,51,51)" filter="url(#b6)"  />
<ellipse cx="1511" cy="1393" rx="13" ry="16" fill="rgb(204,204,204)" filter="url(#b6)"  />
<ellipse cx="1570" cy="1375" rx="10" ry="12" fill="rgb(85,85,85)" filter="url(#b6)"  />
<ellipse cx="1596" cy="1368" rx="14" ry="18" fill="rgb(162,162,162)" filter="url(#b8)"  />
<ellipse cx="1070" cy="1568" rx="9" ry="20" fill="rgb(42,42,42)" filter="url(#b5)"  />
<ellipse cx="1106" cy="1565" rx="18" ry="18" fill="rgb(195,195,195)" filter="url(#b8)"  />
<ellipse cx="1522" cy="1758" rx="27" ry="55" fill="rgb(0,0,0)" filter="url(#b8)"  />
<ellipse cx="1505" cy="1760" rx="30" ry="50" fill="rgb(68,68,68)" filter="url(#b10)"  />
<ellipse cx="1576" cy="1768" rx="28" ry="48" fill="rgb(255,255,255)" filter="url(#b8)"  />
<ellipse cx="992" cy="1803" rx="14" ry="30" fill="rgb(162,162,162)" filter="url(#b9)"  />
<ellipse cx="1507" cy="2005" rx="12" ry="18" fill="rgb(68,68,68)" filter="url(#b7)"  />
<ellipse cx="1536" cy="2003" rx="14" ry="16" fill="rgb(179,179,179)" filter="url(#b7)"  />
<ellipse cx="1624" cy="1290" rx="6" ry="50" fill="rgb(85,85,85)" filter="url(#b5)"  />
</g>
<line x1="951" y1="1190.6" x2="1628.2" y2="1190.6" stroke="#000" stroke-width="3.2" />
<line x1="962.2" y1="1189.4" x2="962.2" y2="2037.5" stroke="#000" stroke-width="3.2" />
<line x1="1626.6" y1="1189.4" x2="1626.6" y2="2038" stroke="#000" stroke-width="3.2" />
<line x1="951" y1="2023.2" x2="1628.2" y2="2023.2" stroke="#000" stroke-width="3.2" />
<line x1="953" y1="1605.6" x2="962" y2="1605.6" stroke="#000" stroke-width="3" />
<line x1="1294" y1="2023" x2="1294" y2="2034.5" stroke="#000" stroke-width="2.4" />
<polygon points="1631,1193.5 1654,1179.5 1654,1208.5" fill="#000"/>
<rect x="1667.6" y="1190.5" width="31.80" height="398.50" fill="url(#cbar)" stroke="#000" stroke-width="2.6" />
<rect x="1667.6" y="1625" width="31.80" height="398.60" fill="url(#dots)" stroke="#1e1e1e" stroke-width="2.6" />
<line x1="1669" y1="1812" x2="1698" y2="1812" stroke="#e8141c" stroke-width="3" />
<text transform="translate(1041.5,1178.8) scale(0.7439,1)" font-size="45.06" fill="#1c1c26" stroke="#1c1c26" stroke-width="0.35" >Amplitude - Scan forward   Line fit</text>
<text transform="translate(965.0,2073.8) scale(0.7461,1)" font-size="37.79" fill="#1c1c26" stroke="#1c1c26" stroke-width="0.35" >0 m</text>
<text transform="translate(1279.0,2073.8) scale(0.7265,1)" font-size="37.79" fill="#1c1c26" stroke="#1c1c26" stroke-width="0.35" >X*</text>
<text transform="translate(1549.5,2074.0) scale(0.7465,1)" font-size="38.52" fill="#1c1c26" stroke="#1c1c26" stroke-width="0.35" >10µm</text>
<text transform="translate(943.5,2019.5) rotate(-90) scale(1.0036,1)" font-size="31.98" fill="#2a2a2a" stroke="#2a2a2a" stroke-width="0.35" >0 m</text>
<text transform="translate(943.5,1628.0) rotate(-90) scale(1.0244,1)" font-size="31.98" fill="#2a2a2a" stroke="#2a2a2a" stroke-width="0.35" >Y*</text>
<text transform="translate(943.5,1285.0) rotate(-90) scale(1.0418,1)" font-size="31.98" fill="#2a2a2a" stroke="#2a2a2a" stroke-width="0.35" >10µm</text>
<text transform="translate(1734.5,1510.6) rotate(-90) scale(1.0588,1)" font-size="32.85" fill="#2a2a2a" stroke="#2a2a2a" stroke-width="0.35" >Line fit 2.35mV</text>
<text transform="translate(1734.3,1954.8) rotate(-90) scale(1.1021,1)" font-size="31.25" fill="#2a2a2a" stroke="#2a2a2a" stroke-width="0.35" >Amplitude range</text>
<defs><filter id="b2" x="-200%" y="-200%" width="500%" height="500%" color-interpolation-filters="sRGB"><feGaussianBlur stdDeviation="2"/></filter><filter id="b3" x="-200%" y="-200%" width="500%" height="500%" color-interpolation-filters="sRGB"><feGaussianBlur stdDeviation="3"/></filter><filter id="b4" x="-200%" y="-200%" width="500%" height="500%" color-interpolation-filters="sRGB"><feGaussianBlur stdDeviation="4"/></filter><filter id="b5" x="-200%" y="-200%" width="500%" height="500%" color-interpolation-filters="sRGB"><feGaussianBlur stdDeviation="5"/></filter><filter id="b6" x="-200%" y="-200%" width="500%" height="500%" color-interpolation-filters="sRGB"><feGaussianBlur stdDeviation="6"/></filter><filter id="b7" x="-200%" y="-200%" width="500%" height="500%" color-interpolation-filters="sRGB"><feGaussianBlur stdDeviation="7"/></filter><filter id="b8" x="-200%" y="-200%" width="500%" height="500%" color-interpolation-filters="sRGB"><feGaussianBlur stdDeviation="8"/></filter><filter id="b9" x="-200%" y="-200%" width="500%" height="500%" color-interpolation-filters="sRGB"><feGaussianBlur stdDeviation="9"/></filter><filter id="b10" x="-200%" y="-200%" width="500%" height="500%" color-interpolation-filters="sRGB"><feGaussianBlur stdDeviation="10"/></filter><filter id="b12" x="-200%" y="-200%" width="500%" height="500%" color-interpolation-filters="sRGB"><feGaussianBlur stdDeviation="12"/></filter><filter id="b13" x="-200%" y="-200%" width="500%" height="500%" color-interpolation-filters="sRGB"><feGaussianBlur stdDeviation="13"/></filter><filter id="b14" x="-200%" y="-200%" width="500%" height="500%" color-interpolation-filters="sRGB"><feGaussianBlur stdDeviation="14"/></filter><filter id="b16" x="-200%" y="-200%" width="500%" height="500%" color-interpolation-filters="sRGB"><feGaussianBlur stdDeviation="16"/></filter><filter id="b18" x="-200%" y="-200%" width="500%" height="500%" color-interpolation-filters="sRGB"><feGaussianBlur stdDeviation="18"/></filter><filter id="b20" x="-200%" y="-200%" width="500%" height="500%" color-interpolation-filters="sRGB"><feGaussianBlur stdDeviation="20"/></filter><filter id="b22" x="-200%" y="-200%" width="500%" height="500%" color-interpolation-filters="sRGB"><feGaussianBlur stdDeviation="22"/></filter><filter id="b24" x="-200%" y="-200%" width="500%" height="500%" color-interpolation-filters="sRGB"><feGaussianBlur stdDeviation="24"/></filter></defs>
</svg>
</body></html>
